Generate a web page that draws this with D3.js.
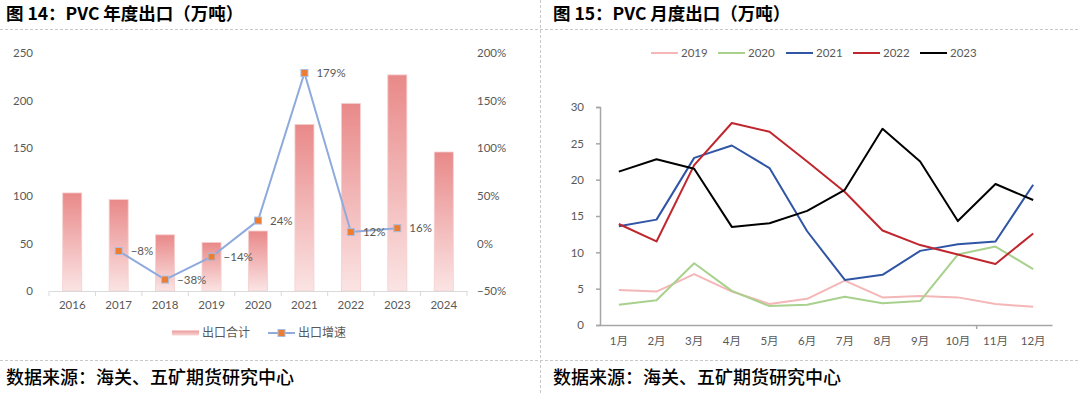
<!DOCTYPE html>
<html>
<head>
<meta charset="utf-8">
<script src="https://cdn.jsdelivr.net/npm/d3@7"></script>
<style>
  body { margin: 0; background: #fff; }
  svg { display: block; font-family: "Noto Sans CJK SC", sans-serif; }
  .tick text { font-family: Lato, "Noto Sans CJK SC", sans-serif; font-size: 11.5px; fill: #595959; }
</style>
</head>
<body>
<svg width="1080" height="393"></svg>
<script>
// Left chart: yearly exports (10k t) and growth
const years = ['2016', '2017', '2018', '2019', '2020', '2021', '2022', '2023', '2024']
const exportTotal = [103, 96, 59, 51, 63, 175, 197, 227, 146]
const growthYears = ['2017', '2018', '2019', '2020', '2021', '2022', '2023']
const growth = [-0.08, -0.38, -0.14, 0.24, 1.79, 0.12, 0.16]
const leftTicks = [0, 50, 100, 150, 200, 250]
const rightTicks = [-0.5, 0, 0.5, 1, 1.5, 2]

// Right chart: monthly exports (10k t)
const months = ['1月', '2月', '3月', '4月', '5月', '6月', '7月', '8月', '9月', '10月', '11月', '12月']
const seriesNames = ['2019', '2020', '2021', '2022', '2023']
const s2019 = [4.8, 4.6, 7.0, 4.6, 2.9, 3.6, 6.1, 3.8, 4.0, 3.8, 2.9, 2.5]
const s2020 = [2.8, 3.4, 8.5, 4.7, 2.6, 2.8, 3.9, 3.0, 3.3, 9.7, 10.8, 7.7]
const s2021 = [13.6, 14.5, 23.0, 24.7, 21.6, 12.9, 6.2, 6.9, 10.2, 11.1, 11.5, 19.3]
const s2022 = [13.9, 11.5, 22.0, 27.8, 26.6, 22.5, 18.3, 13.0, 11.0, 9.7, 8.4, 12.6]
const s2023 = [21.1, 22.8, 21.5, 13.5, 14.0, 15.7, 18.6, 27.0, 22.5, 14.3, 19.4, 17.2]
const monthTicks = [0, 5, 10, 15, 20, 25, 30]

const colors = ['#F4B6B6', '#A9D18E', '#2F55A4', '#C0262D', '#000000']
const grey = '#595959'

const svg = d3.select('svg')

// gradient for bars
const defs = svg.append('defs')
const grad = defs.append('linearGradient').attr('id', 'barGrad')
  .attr('x1', 0).attr('y1', 0).attr('x2', 0).attr('y2', 1)
grad.append('stop').attr('offset', '0%').attr('stop-color', '#E98989')
grad.append('stop').attr('offset', '100%').attr('stop-color', '#FBE4E4')
const gradH = defs.append('linearGradient').attr('id', 'legGrad')
  .attr('x1', 0).attr('y1', 0).attr('x2', 0).attr('y2', 1)
gradH.append('stop').attr('offset', '0%').attr('stop-color', '#EC9A9A')
gradH.append('stop').attr('offset', '100%').attr('stop-color', '#F8D6D6')

// frame: dashed separators
const dash = (x1, y1, x2, y2) => svg.append('line')
  .attr('x1', x1).attr('y1', y1).attr('x2', x2).attr('y2', y2)
  .attr('stroke', '#C8C8C8').attr('stroke-dasharray', '3,2').attr('stroke-width', 1)
dash(0, 29.5, 1080, 29.5)
dash(0, 360.5, 1080, 360.5)
dash(540.5, 0, 540.5, 393)

// titles and sources
const heading = (x, y, t, size, bold) => svg.append('text')
  .attr('x', x).attr('y', y).text(t)
  .attr('font-size', size).attr('font-weight', bold ? 700 : 500).attr('fill', '#000')
heading(6, 20, '图 14：PVC 年度出口（万吨）', 17.5, true)
heading(553, 20, '图 15：PVC 月度出口（万吨）', 17.5, true)
heading(6, 384, '数据来源：海关、五矿期货研究中心', 18, false)
heading(553, 384, '数据来源：海关、五矿期货研究中心', 18, false)

// ---------- left chart ----------
const x = d3.scaleBand().domain(years).range([49, 467])
const yL = d3.scaleLinear().domain([0, 250]).range([291, 53])
const yR = d3.scaleLinear().domain([-0.5, 2]).range([291, 53])
const barW = x.bandwidth() * 0.41

const left = svg.append('g')

left.append('g').attr('transform', 'translate(33,0)')
  .call(d3.axisLeft(yL).tickValues(leftTicks).tickSize(0).tickPadding(0))
  .call((g) => g.select('.domain').remove())

left.append('g').attr('transform', 'translate(477,0)')
  .call(d3.axisRight(yR).tickValues(rightTicks).tickSize(0).tickPadding(0)
    .tickFormat((d) => d3.format('.0%')(d).replace('-', '−')))
  .call((g) => g.select('.domain').remove())

left.selectAll('rect.bar').data(exportTotal).enter().append('rect')
  .attr('class', 'bar')
  .attr('x', (d, i) => x(years[i]) + (x.bandwidth() - barW) / 2)
  .attr('y', (d) => yL(d))
  .attr('width', barW)
  .attr('height', (d) => yL(0) - yL(d))
  .attr('fill', 'url(#barGrad)')
  .attr('stroke', '#F6CFCF').attr('stroke-width', 0.8)

const xAxisL = left.append('g').attr('transform', 'translate(0,291)')
  .call(d3.axisBottom(x).tickSize(0).tickPadding(10))
xAxisL.select('.domain').attr('stroke', '#D9D9D9')
xAxisL.selectAll('line.edge').data(years.concat(['end'])).enter().append('line')
  .attr('class', 'edge')
  .attr('x1', (d, i) => x.range()[0] + i * x.step()).attr('x2', (d, i) => x.range()[0] + i * x.step())
  .attr('y1', 0).attr('y2', 5).attr('stroke', '#D9D9D9')

const cx = (yr) => x(yr) + x.bandwidth() / 2
left.append('path').datum(growth)
  .attr('fill', 'none').attr('stroke', '#8FAADC').attr('stroke-width', 2)
  .attr('d', d3.line().x((d, i) => cx(growthYears[i])).y((d) => yR(d)))

left.selectAll('rect.mk').data(growth).enter().append('rect')
  .attr('class', 'mk')
  .attr('x', (d, i) => cx(growthYears[i]) - 3.5).attr('y', (d) => yR(d) - 3.5)
  .attr('width', 7).attr('height', 7)
  .attr('fill', '#ED7D31').attr('stroke', '#A9BDE3').attr('stroke-width', 1)

left.selectAll('text.lbl').data(growth).enter().append('text')
  .attr('class', 'lbl')
  .attr('x', (d, i) => cx(growthYears[i]) + 12).attr('y', (d) => yR(d))
  .attr('dy', '0.35em')
  .attr('font-family', 'Lato, sans-serif').attr('font-size', 11.5).attr('fill', grey)
  .text((d) => d3.format('.0%')(d).replace('-', '−'))

// legend
left.append('rect').attr('x', 172).attr('y', 330.5).attr('width', 27).attr('height', 5)
  .attr('fill', 'url(#legGrad)')
left.append('text').attr('x', 202).attr('y', 333).attr('dy', '0.35em')
  .attr('font-size', 12).attr('fill', grey).text('出口合计')
left.append('line').attr('x1', 268).attr('x2', 295).attr('y1', 333).attr('y2', 333)
  .attr('stroke', '#8FAADC').attr('stroke-width', 2)
left.append('rect').attr('x', 278).attr('y', 329.5).attr('width', 7).attr('height', 7)
  .attr('fill', '#ED7D31').attr('stroke', '#A9BDE3')
left.append('text').attr('x', 298).attr('y', 333).attr('dy', '0.35em')
  .attr('font-size', 12).attr('fill', grey).text('出口增速')

// ---------- right chart ----------
const xm = d3.scaleBand().domain(months).range([600, 1052])
const ym = d3.scaleLinear().domain([0, 30]).range([325, 107])
const right = svg.append('g')

const yAxisR = right.append('g').attr('transform', 'translate(600,0)')
  .call(d3.axisLeft(ym).tickValues(monthTicks).tickSize(4).tickPadding(12))
yAxisR.selectAll('line, .domain').attr('stroke', '#A6A6A6').attr('stroke-width', 1.5)

const xAxisR = right.append('g').attr('transform', 'translate(0,325)')
  .call(d3.axisBottom(xm).tickSize(0).tickPadding(12))
xAxisR.select('.domain').attr('stroke', '#A6A6A6').attr('stroke-width', 1.5)
xAxisR.append('line')
  .attr('x1', xm('11月')).attr('x2', xm('11月')).attr('y1', 0).attr('y2', 4)
  .attr('stroke', '#A6A6A6').attr('stroke-width', 1.5)

const allSeries = [s2019, s2020, s2021, s2022, s2023]
const lineM = d3.line().x((d, i) => xm(months[i]) + xm.bandwidth() / 2).y((d) => ym(d))
right.selectAll('path.series').data(allSeries).enter().append('path')
  .attr('class', 'series')
  .attr('fill', 'none')
  .attr('stroke', (d, i) => colors[i])
  .attr('stroke-width', 2)
  .attr('stroke-linejoin', 'round')
  .attr('d', lineM)

const legX = [651, 718, 786, 853, 920]
const leg = right.selectAll('g.leg').data(seriesNames).enter().append('g')
  .attr('class', 'leg').attr('transform', (d, i) => `translate(${legX[i]},53)`)
leg.append('line').attr('x1', 0).attr('x2', 27)
  .attr('stroke', (d, i) => colors[i]).attr('stroke-width', 2)
leg.append('text').attr('x', 30).attr('dy', '0.35em')
  .attr('font-family', 'Lato, sans-serif').attr('font-size', 11.5).attr('fill', grey)
  .text((d) => d)
</script>
</body>
</html>
